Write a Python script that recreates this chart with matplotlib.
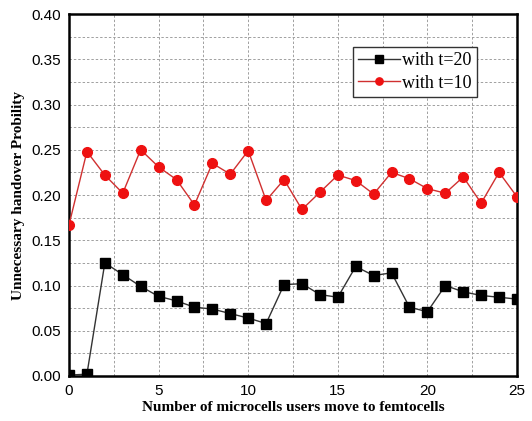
import matplotlib.pyplot as plt
import numpy as np

users = list(range(0, 26))
t20 = [0.001, 0.002, 0.125, 0.112, 0.099, 0.088, 0.083, 0.076, 0.074, 0.069, 0.064, 0.058,
       0.101, 0.102, 0.090, 0.087, 0.121, 0.111, 0.114, 0.076, 0.071, 0.100, 0.093, 0.089,
       0.087, 0.085]
t10 = [0.167, 0.248, 0.222, 0.202, 0.250, 0.231, 0.217, 0.189, 0.235, 0.223, 0.249, 0.194,
       0.217, 0.184, 0.203, 0.222, 0.216, 0.201, 0.225, 0.218, 0.207, 0.202, 0.220, 0.191,
       0.225, 0.198]
yticks = [0.00, 0.05, 0.10, 0.15, 0.20, 0.25, 0.30, 0.35, 0.40]
xticks = [0, 5, 10, 15, 20, 25]

fig = plt.figure(figsize=(5.32, 4.21), dpi=100)
ax = fig.add_axes([0.1297, 0.1069, 0.8421, 0.8598])

ax.plot(users, t20, color="#333333", linewidth=1.0, marker="s", markersize=7,
        markerfacecolor="black", markeredgecolor="black", label="with t=20", zorder=3)
ax.plot(users, t10, color="#d03030", linewidth=1.0, marker="o", markersize=7,
        markerfacecolor="#ee1111", markeredgecolor="#ee1111", label="with t=10", zorder=3)

ax.set_xlim(0, 25)
ax.set_ylim(0, 0.4)
ax.set_xticks(xticks)
ax.set_yticks(yticks)
ax.set_yticklabels(["%.2f" % v for v in yticks])
ax.set_xticks(np.arange(0, 25.1, 2.5), minor=True)
ax.set_yticks(np.arange(0, 0.401, 0.025), minor=True)
ax.tick_params(which="both", length=0, labelsize=11, pad=6)
for lbl in ax.get_xticklabels() + ax.get_yticklabels():
    lbl.set_family("Liberation Sans")

ax.grid(which="both", linestyle=(0, (2.5, 2)), linewidth=0.7, color="#a0a0a0")
for s in ax.spines.values():
    s.set_linewidth(1.8)

ax.set_xlabel("Number of microcells users move to femtocells", family="Liberation Serif",
              fontweight="bold", fontsize=11, labelpad=2)
ax.set_ylabel("Unnecessary handover Probility", family="Liberation Serif",
              fontweight="bold", fontsize=11, labelpad=4)

leg = ax.legend(loc="upper right", bbox_to_anchor=(0.911, 0.909), borderaxespad=0,
                fancybox=False, framealpha=1, edgecolor="#333333", handlelength=2.3,
                handletextpad=0.15, borderpad=0.3, labelspacing=0.3, markerscale=0.75,
                prop={"family": "Liberation Serif", "size": 13})
leg.get_frame().set_linewidth(1.0)

fig.savefig("out.png", dpi=100)
